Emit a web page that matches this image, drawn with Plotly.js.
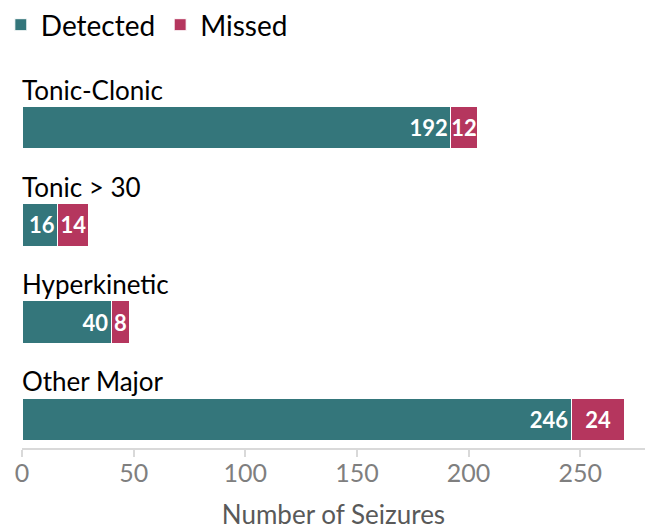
<!DOCTYPE html>
<html>
<head>
<meta charset="utf-8">
<script src="https://cdn.plot.ly/plotly-3.0.1.min.js"></script>
<style>html,body{margin:0;padding:0;background:#fff;}#chart{width:645px;height:530px;}</style>
</head>
<body>
<div id="chart"></div>
<script>
const categories = ["Tonic-Clonic", "Tonic > 30", "Hyperkinetic", "Other Major"];
const detected = [192, 16, 40, 246];
const missed = [12, 14, 8, 24];
const xTicks = [0, 50, 100, 150, 200, 250];

const FONT = "Lato, 'Open Sans', sans-serif";
const teal = "#34767B";
const crimson = "#B5365E";

const traces = [
  {
    type: "bar", orientation: "h", name: "Detected",
    y: categories, x: detected,
    marker: {color: teal, line: {color: "#ffffff", width: 1}},
    text: detected.map(String), textposition: "inside", insidetextanchor: "end",
    constraintext: "none",
    textfont: {color: "#ffffff", size: 22, family: FONT, weight: "bold"},
    width: 0.44, hoverinfo: "x+name"
  },
  {
    type: "bar", orientation: "h", name: "Missed",
    y: categories, x: missed,
    marker: {color: crimson, line: {color: "#ffffff", width: 1}},
    text: missed.map(String), textposition: "inside", insidetextanchor: "middle",
    constraintext: "none",
    textfont: {color: "#ffffff", size: 22, family: FONT, weight: "bold"},
    width: 0.44, hoverinfo: "x+name"
  }
];

const annotations = categories.map(c => ({
  x: 0, xref: "paper", xanchor: "left", xshift: -2,
  y: c, yref: "y", yanchor: "middle", yshift: 38,
  text: c, showarrow: false,
  font: {family: FONT, size: 26, color: "#000000"}
}));

const layout = {
  width: 645, height: 530,
  margin: {l: 22, r: 0, t: 60, b: 82},
  paper_bgcolor: "#ffffff", plot_bgcolor: "#ffffff",
  barmode: "stack",
  bargap: 0.56,
  font: {family: FONT},
  showlegend: true,
  legend: {
    orientation: "h", x: -0.034, xanchor: "left", y: 1, yref: "container", yanchor: "top",
    font: {family: FONT, size: 28, color: "#000000"},
    traceorder: "normal", itemwidth: 30
  },
  xaxis: {
    range: [0, 279], tickvals: xTicks, ticktext: xTicks.map(String),
    showgrid: false, zeroline: false,
    showline: true, linecolor: "#d9d9d9", linewidth: 2,
    ticks: "outside", ticklen: 7, tickcolor: "#d9d9d9", tickwidth: 2,
    ticklabelstandoff: -5,
    tickfont: {family: FONT, size: 25, color: "#7f7f7f"},
    title: {text: "Number of Seizures", font: {family: FONT, size: 26, color: "#595959"}, standoff: 29}
  },
  yaxis: {
    type: "category", categoryorder: "array", categoryarray: categories,
    range: [3.293, -0.694], showticklabels: false, showgrid: false, zeroline: false, showline: false, ticks: ""
  },
  annotations: annotations
};

Plotly.newPlot("chart", traces, layout, {displayModeBar: false, staticPlot: true});
</script>
</body>
</html>
